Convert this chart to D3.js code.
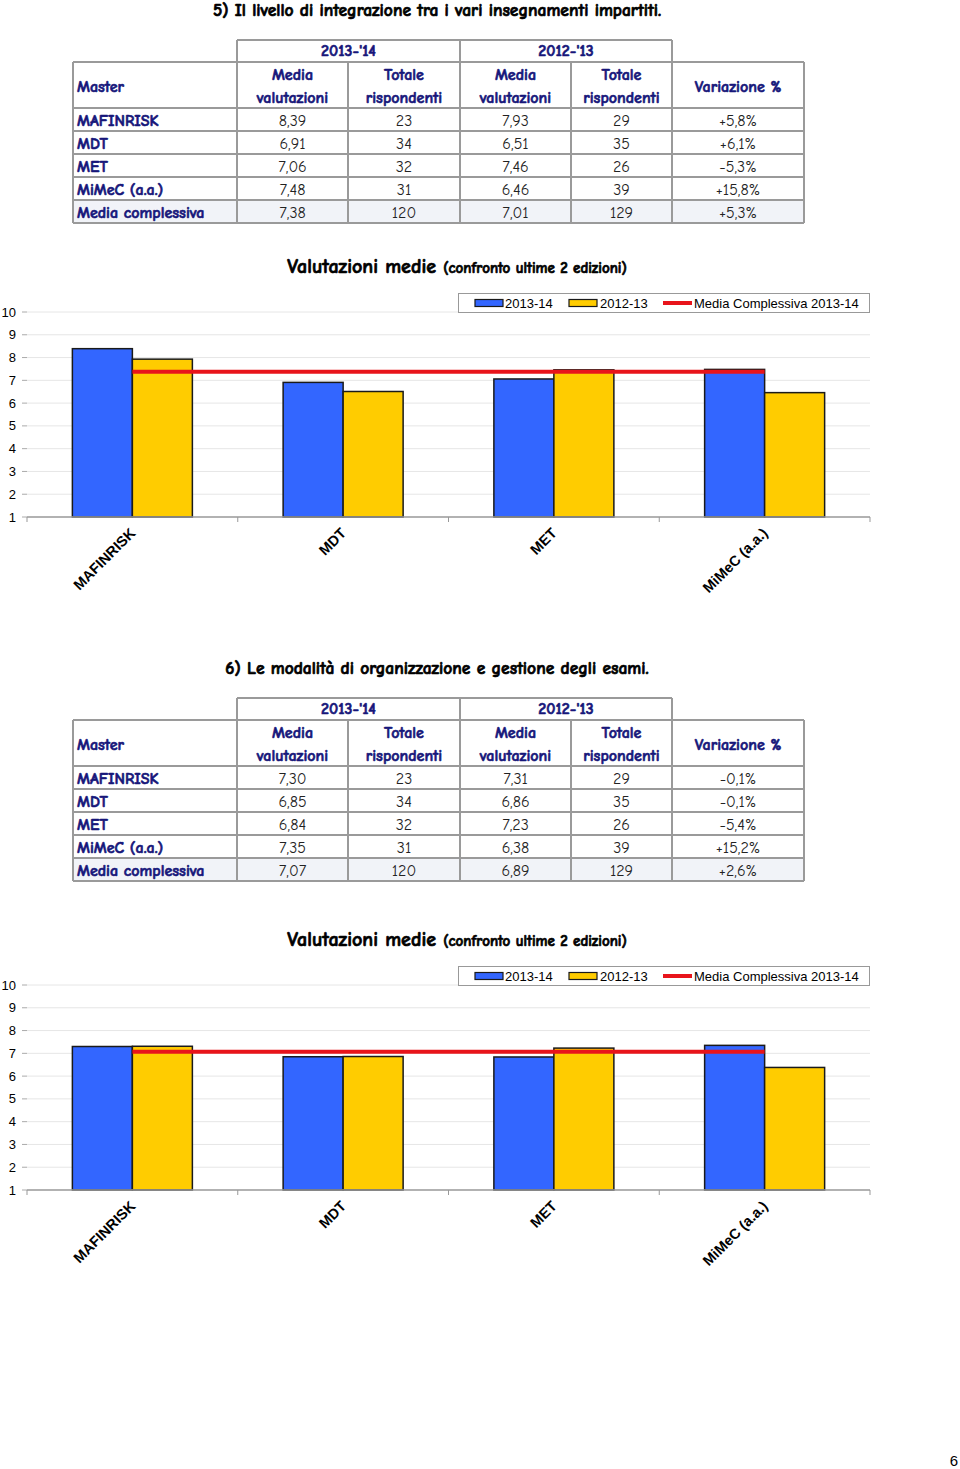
<!DOCTYPE html>
<html><head><meta charset="utf-8">
<script src="https://cdn.jsdelivr.net/npm/d3@7"></script>
<style>
body{margin:0;background:#fff;}
svg{display:block;}
</style></head>
<body>
<script>
// ---------- DATA ----------
const masters = ["MAFINRISK", "MDT", "MET", "MiMeC (a.a.)"];
const seriesNames = ["2013-14", "2012-13"];
const lineName = "Media Complessiva 2013-14";
const yTicks = [1, 2, 3, 4, 5, 6, 7, 8, 9, 10];

// Question 5
const q5Title = "5) Il livello di integrazione tra i vari insegnamenti impartiti.";
const q5Media1314 = [8.39, 6.91, 7.06, 7.48];
const q5Tot1314 = [23, 34, 32, 31];
const q5Media1213 = [7.93, 6.51, 7.46, 6.46];
const q5Tot1213 = [29, 35, 26, 39];
const q5Var = ["+5,8%", "+6,1%", "-5,3%", "+15,8%"];
const q5Overall = [7.38, 120, 7.01, 129, "+5,3%"];

// Question 6
const q6Title = "6) Le modalità di organizzazione e gestione degli esami.";
const q6Media1314 = [7.30, 6.85, 6.84, 7.35];
const q6Tot1314 = [23, 34, 32, 31];
const q6Media1213 = [7.31, 6.86, 7.23, 6.38];
const q6Tot1213 = [29, 35, 26, 39];
const q6Var = ["-0,1%", "-0,1%", "-5,4%", "+15,2%"];
const q6Overall = [7.07, 120, 6.89, 129, "+2,6%"];

const pageNumber = "6";

// ---------- DRAW ----------
const W = 960, H = 1469;
const svg = d3.select("body").append("svg").attr("width", W).attr("height", H);
const comic = "'Comic Sans MS','Comic Neue','DejaVu Sans',sans-serif";
const arial = "Arial,'Liberation Sans',sans-serif";
const navy = "#16167a";
const fmt = (v, c) => (typeof v === "number" ? (c === 1 || c === 3 ? v.toFixed(2).replace(".", ",") : String(v)) : v);

function boldify(sel, col, w) {
  return sel.attr("font-weight", "bold").attr("stroke", col).attr("stroke-width", w || 0.6)
    .attr("paint-order", "stroke");
}

function section(tOff, cOff, title, m1314, t1314, m1213, t1213, vars, overall) {
  const t = svg.append("g").attr("transform", `translate(0,${tOff})`);
  boldify(t.append("text").attr("x", 437).attr("y", 15.5).attr("text-anchor", "middle")
    .attr("font-family", comic).attr("font-size", 17.5)
    .attr("fill", "#000").text(title), "#000", 0.7);

  const cx = [73, 237, 348, 460, 571, 672, 804];
  const border = "#9a9a9a";
  const rowTop = 108, rowH = 23;
  t.append("rect").attr("x", cx[0]).attr("y", rowTop + 4 * rowH).attr("width", cx[6] - cx[0])
    .attr("height", rowH).attr("fill", "#f1f3f8");
  const line = (x1, y1, x2, y2) => t.append("line").attr("x1", x1).attr("y1", y1).attr("x2", x2).attr("y2", y2)
    .attr("stroke", border).attr("stroke-width", 2);
  line(cx[1], 40, cx[5], 40);
  [cx[1], cx[3], cx[5]].forEach(x => line(x, 40, x, 62));
  line(cx[0], 62, cx[6], 62);
  for (let i = 0; i <= 5; i++) line(cx[0], rowTop + i * rowH, cx[6], rowTop + i * rowH);
  cx.forEach(x => line(x, 62, x, rowTop + 5 * rowH));

  const txt = (x, y, s, anchor, bold, col, size) => {
    const e = t.append("text").attr("x", x).attr("y", y)
      .attr("text-anchor", anchor).attr("dominant-baseline", "central")
      .attr("font-family", comic).attr("font-size", size || 16).attr("fill", col).text(s);
    if (bold) boldify(e, col, 0.6);
    return e;
  };
  const mid = i => (cx[i] + cx[i + 1]) / 2;
  txt((cx[1] + cx[3]) / 2, 51, "2013-'14", "middle", true, navy);
  txt((cx[3] + cx[5]) / 2, 51, "2012-'13", "middle", true, navy);
  txt(77, 87, "Master", "start", true, navy);
  [[1, "Media", "valutazioni"], [2, "Totale", "rispondenti"], [3, "Media", "valutazioni"], [4, "Totale", "rispondenti"]]
    .forEach(([i, a, b]) => { txt(mid(i), 75, a, "middle", true, navy); txt(mid(i), 98, b, "middle", true, navy); });
  txt(mid(5), 87, "Variazione %", "middle", true, navy);

  const rows = masters.map((m, i) => [m, m1314[i], t1314[i], m1213[i], t1213[i], vars[i]]);
  rows.push(["Media complessiva", ...overall]);
  rows.forEach((r, i) => {
    const y = rowTop + i * rowH + rowH / 2 + 1;
    txt(77, y, r[0], "start", true, navy);
    for (let c = 1; c <= 5; c++) txt(mid(c), y, fmt(r[c], c), "middle", false, "#222");
  });

  const c = svg.append("g").attr("transform", `translate(0,${cOff})`);
  const ct = c.append("text").attr("x", 457).attr("y", 273).attr("text-anchor", "middle")
    .attr("font-family", comic).attr("fill", "#000");
  boldify(ct, "#000", 0.7);
  ct.append("tspan").attr("font-size", 20).text("Valutazioni medie ");
  ct.append("tspan").attr("font-size", 15).text("(confronto ultime 2 edizioni)");

  const x0 = d3.scaleBand().domain(masters).range([27, 870]).padding(0);
  const y = d3.scaleLinear().domain([1, 10]).range([517, 312]);
  const bw = 60;

  c.selectAll(".grid").data(yTicks.slice(1)).join("line")
    .attr("x1", 27).attr("x2", 870).attr("y1", d => y(d)).attr("y2", d => y(d))
    .attr("stroke", "#e6e6e6").attr("stroke-width", 1);
  c.selectAll(".yt").data(yTicks).join("line")
    .attr("x1", 22).attr("x2", 27).attr("y1", d => y(d)).attr("y2", d => y(d))
    .attr("stroke", "#aaa");
  c.selectAll(".yl").data(yTicks).join("text")
    .attr("x", 16).attr("y", d => y(d)).attr("dominant-baseline", "central")
    .attr("text-anchor", "end").attr("font-family", arial).attr("font-size", 13).attr("fill", "#000")
    .text(d => d);

  const vals = [m1314, m1213];
  const colors = ["#3366ff", "#ffcc00"];
  vals.forEach((arr, s) => {
    c.selectAll(".b" + s).data(masters).join("rect")
      .attr("x", (d) => x0(d) + x0.bandwidth() / 2 - bw + s * bw)
      .attr("y", (d, i) => y(arr[i]))
      .attr("width", bw).attr("height", (d, i) => y(1) - y(arr[i]))
      .attr("fill", colors[s]).attr("stroke", "#1a1a1a").attr("stroke-width", 1.5);
  });
  c.append("line").attr("x1", 27).attr("x2", 870).attr("y1", y(1)).attr("y2", y(1))
    .attr("stroke", "#999").attr("stroke-width", 1.5);
  const bounds = masters.map(d => x0(d)).concat([870]);
  c.selectAll(".xt").data(bounds).join("line")
    .attr("x1", d => d).attr("x2", d => d).attr("y1", y(1)).attr("y2", y(1) + 5).attr("stroke", "#999");

  const mean = overall[0];
  c.append("line").attr("x1", x0(masters[0]) + x0.bandwidth() / 2)
    .attr("x2", x0(masters[3]) + x0.bandwidth() / 2)
    .attr("y1", y(mean)).attr("y2", y(mean)).attr("stroke", "#e8141b").attr("stroke-width", 4);

  c.selectAll(".xl").data(masters).join("text")
    .attr("transform", d => `translate(${x0(d) + x0.bandwidth() / 2 + 4},${y(1) + 17}) rotate(-45)`)
    .attr("text-anchor", "end").attr("font-family", arial).attr("font-weight", "bold")
    .attr("font-size", 14.5).attr("fill", "#000").text(d => d);

  c.append("rect").attr("x", 458.5).attr("y", 293.5).attr("width", 411).attr("height", 19)
    .attr("fill", "#fff").attr("stroke", "#999");
  const leg = [[475, 505, seriesNames[0], "rect", colors[0]], [569, 600, seriesNames[1], "rect", colors[1]], [663, 694, lineName, "line", "#e8141b"]];
  leg.forEach(([sx, tx, label, kind, col]) => {
    if (kind === "rect") c.append("rect").attr("x", sx).attr("y", 299.5).attr("width", 28).attr("height", 7)
      .attr("fill", col).attr("stroke", "#1a1a1a").attr("stroke-width", 1.2);
    else c.append("line").attr("x1", sx).attr("x2", sx + 29).attr("y1", 303).attr("y2", 303)
      .attr("stroke", col).attr("stroke-width", 4);
    c.append("text").attr("x", tx).attr("y", 303.5).attr("dominant-baseline", "central")
      .attr("font-family", arial).attr("font-size", 13).attr("fill", "#000").text(label);
  });
}

section(0, 0, q5Title, q5Media1314, q5Tot1314, q5Media1213, q5Tot1213, q5Var, q5Overall);
section(658, 673, q6Title, q6Media1314, q6Tot1314, q6Media1213, q6Tot1213, q6Var, q6Overall);

svg.append("text").attr("x", 958).attr("y", 1466).attr("text-anchor", "end")
  .attr("font-family", arial).attr("font-size", 15).attr("fill", "#000").text(pageNumber);
</script>
</body></html>
